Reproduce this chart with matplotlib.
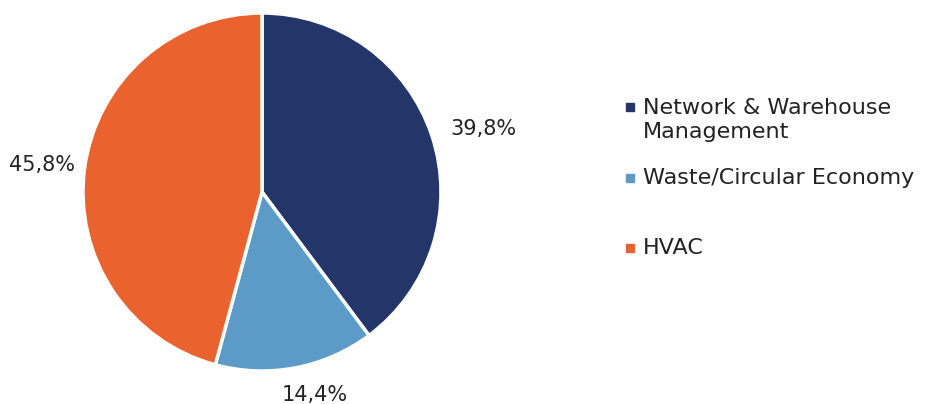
import matplotlib.pyplot as plt
from matplotlib.patches import Rectangle

plt.rcParams['font.family'] = ['DejaVu Sans']

categories = ['Network & Warehouse\nManagement', 'Waste/Circular Economy', 'HVAC']
shares = [39.8, 14.4, 45.8]
colors = ['#24356a', '#5c9bc7', '#ea622d']

W, H = 933, 404
fig = plt.figure(figsize=(W / 100, H / 100), dpi=100)

# pie centre (262, 192) px, radius ~179 px
cx, cy, r = 262, 192, 179
ax = fig.add_axes([(cx - r) / W, 1 - (cy + r) / H, 2 * r / W, 2 * r / H])
wedges, _, autotexts = ax.pie(
    shares, colors=colors, startangle=90, counterclock=False,
    autopct=lambda p: f'{p:.1f}%'.replace('.', ','), pctdistance=1.24,
    wedgeprops=dict(edgecolor='white', linewidth=2.5),
    textprops=dict(fontsize=15, color='#222222'))
ax.set_aspect('equal')
ax.set_xlim(-1, 1)
ax.set_ylim(-1, 1)

# label spots as placed in the original (pie radius = 1)
label_pos = [(1.235, 0.352), (0.296, -1.134), (-1.229, 0.151)]
for t, (lx, ly) in zip(autotexts, label_pos):
    t.set_position((lx, ly))
    t.set_clip_on(False)

# legend drawn by hand to keep the uneven PowerPoint spacing
text_x = 643
marker_x = 630
first_line_y = [107, 178, 248]
for name, col, y in zip(categories, colors, first_line_y):
    nlines = name.count('\n') + 1
    yc = y + (nlines - 1) * 13
    fig.text(text_x / W, 1 - yc / H, name, fontsize=16, color='#222222',
             va='center', ha='left', linespacing=1.25)
    s = 8
    fig.patches.append(Rectangle(((marker_x - s / 2) / W, 1 - (y + s / 2) / H),
                                 s / W, s / H, color=col,
                                 transform=fig.transFigure, figure=fig))

fig.savefig('out.png', dpi=100)
